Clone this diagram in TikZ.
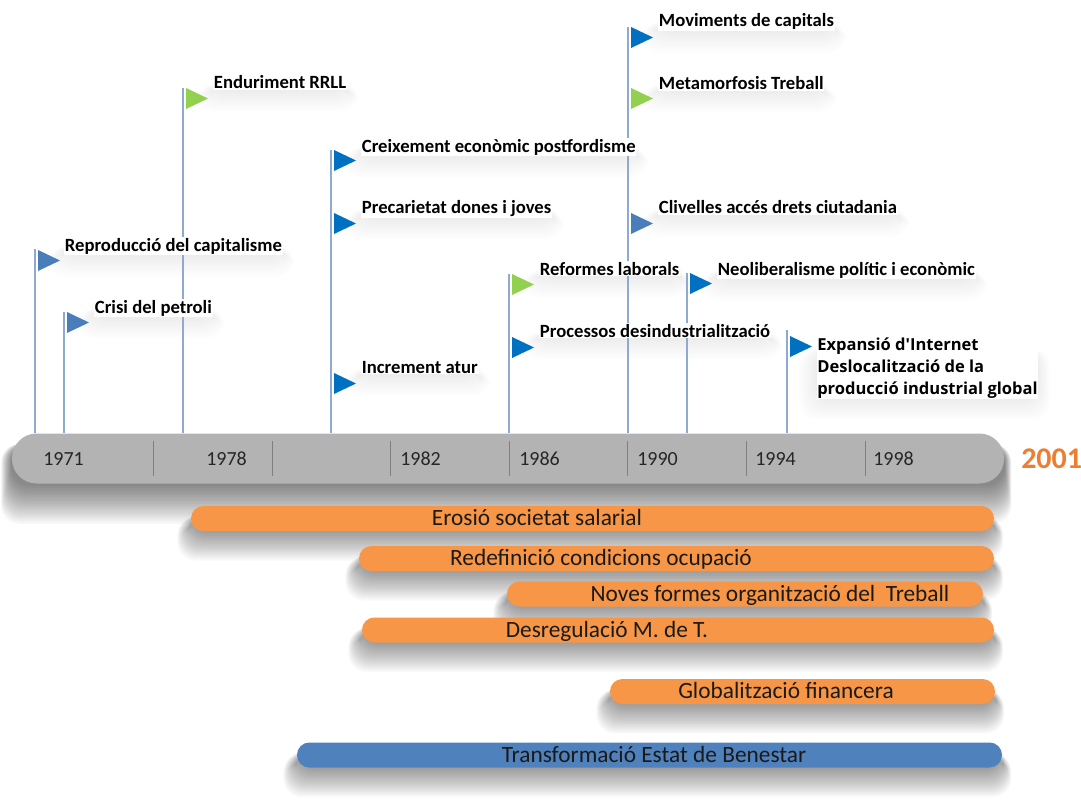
\documentclass[tikz,border=0pt]{standalone}
\usepackage{fontspec}
\setmainfont{Carlito}
\newfontfamily\expfont{Open Sans}
\definecolor{flagblue}{HTML}{0070C0}
\definecolor{flaglight}{HTML}{4A7EBB}
\definecolor{flaggreen}{HTML}{92D050}
\definecolor{polecol}{HTML}{8FAAD0}
\definecolor{axisgray}{HTML}{B3B3B3}
\definecolor{divgray}{HTML}{7F7F7F}
\definecolor{yeartext}{HTML}{262626}
\definecolor{orangebar}{HTML}{F79646}
\definecolor{bluebar}{HTML}{4F81BD}
\definecolor{endyear}{HTML}{ED7D31}
\definecolor{bartext}{HTML}{1A1A1A}

\pgfdeclarelayer{paper}
\pgfdeclarelayer{shadow}
\pgfsetlayers{paper,shadow,main}

\tikzset{
  pole/.style={draw=polecol, line width=1.3pt},
  flagshape/.style={fill=#1},
  event/.style={anchor=base west, font=\fontsize{14}{17}\selectfont\bfseries,
    fill=white, inner xsep=0.5pt, inner ysep=1pt, text=black},
  year/.style={anchor=base west, font=\fontsize{15}{18}\selectfont, text=yeartext, inner sep=0pt},
  divider/.style={draw=divgray, line width=0.6pt},
  periodbar/.style={rounded corners=9.3pt, minimum height=25*0.75pt, inner sep=0pt, fill=#1},
  bartitle/.style={anchor=base, font=\fontsize{17.5}{20}\selectfont, text=bartext, inner sep=0pt},
  shadowlayer/.style={fill=black, opacity=#1, rounded corners=14pt},
}

\newcommand{\eventflag}[3]{% pole x, flag top y, colour
  \fill[flagshape=#3] (#1+3,#2) -- (#1+25,#2+10.5) -- (#1+3,#2+21) -- cycle;}

% soft shadow under a node, built from stacked translucent layers:
% node name, reach below (pt), reach sideways (pt), opacity per layer
\newcommand{\softshadow}[4]{%
  \foreach \i in {1,...,18}{
    \fill[shadowlayer=#4]
      ([xshift={-\i*#3/18}, yshift=-8pt]#1.north west) rectangle
      ([xshift={\i*#3/27}, yshift={-\i*#2/18}]#1.south east);
  }}

\begin{document}
\begin{tikzpicture}[x=0.75pt,y=-0.75pt]
\useasboundingbox (0,0) rectangle (1081,806);
\begin{pgfonlayer}{paper}
  \fill[white] (0,0) rectangle (1081,806);
\end{pgfonlayer}

% ---- time axis ----
\node[fill=axisgray, rounded corners=18.5pt, minimum width=992*0.75pt,
  minimum height=50*0.75pt, inner sep=0pt] (axis) at (508,458.5) {};
\foreach \d in {153,272,390,509,627,746,865}
  \draw[divider] (\d,441) -- (\d,476);

\node[year] (y1971) at (43,465) {1971};
\node[year] (y1978) at (206,465) {1978};
\node[year] (y1982) at (400,465) {1982};
\node[year] (y1986) at (519,465) {1986};
\node[year] (y1990) at (637,465) {1990};
\node[year] (y1994) at (755,465) {1994};
\node[year] (y1998) at (873,465) {1998};
\node[anchor=base west, inner sep=0pt, text=endyear,
  font=\fontsize{22.5}{26}\selectfont\bfseries] (y2001) at (1021,468) {2001};

% ---- poles ----
\coordinate (pA) at (35,249);
\coordinate (pB) at (64,312);
\coordinate (pC) at (183,88);
\coordinate (pD) at (331,150);
\coordinate (pE) at (509,274);
\coordinate (pF) at (628,27);
\coordinate (pG) at (687,273);
\coordinate (pH) at (787,330);
\foreach \p in {pA,pB,pC,pD,pE,pF,pG,pH}
  \draw[pole] (\p) -- (\p |- axis.north);

% ---- flags ----
\eventflag{35}{250}{flaglight}
\eventflag{64}{312}{flaglight}
\eventflag{183}{88}{flaggreen}
\eventflag{331}{150}{flagblue}
\eventflag{331}{213}{flagblue}
\eventflag{331}{373}{flagblue}
\eventflag{509}{274}{flaggreen}
\eventflag{509}{337}{flagblue}
\eventflag{628}{27}{flagblue}
\eventflag{628}{88}{flaggreen}
\eventflag{628}{213}{flaglight}
\eventflag{687}{273}{flagblue}
\eventflag{787}{336}{flagblue}

% ---- event labels ----
\node[event] (eRepro) at (64,251) {Reproducció del capitalisme};
\node[event] (eCrisi) at (94,313) {Crisi del petroli};
\node[event] (eEndur) at (213,89) {Enduriment RRLL};
\node[event] (eCreix) at (361,152) {Creixement econòmic postfordisme};
\node[event] (ePrec) at (361,214) {Precarietat dones i joves};
\node[event] (eAtur) at (361,373) {Increment atur};
\node[event] (eReform) at (539,275) {Reformes laborals};
\node[event] (eDesind) at (539,337) {Processos desindustrialització};
\node[event] (eMov) at (658,27) {Moviments de capitals};
\node[event] (eMeta) at (658,90) {Metamorfosis Treball};
\node[event] (eCliv) at (658,214) {Clivelles accés drets ciutadania};
\node[event] (eNeo) at (717,275) {Neoliberalisme polític i econòmic};
\node[anchor=north west, align=left, inner sep=0pt, fill=white,
  font=\fontsize{12.4}{16.5}\selectfont\expfont\bfseries] (eExp) at (817,338)
  {Expansió d'Internet\\Deslocalització de la\\producció industrial global};

% ---- period bars ----
\node[periodbar=orangebar, minimum width=803*0.75pt] (bErosio) at (592.5,518.5) {};
\node[bartitle] (tErosio) at (537,525.5) {Erosió societat salarial};
\node[periodbar=orangebar, minimum width=635*0.75pt] (bRedef) at (676.5,558.5) {};
\node[bartitle] (tRedef) at (601,565.5) {Redefinició condicions ocupació};
\node[periodbar=orangebar, minimum width=476*0.75pt] (bNoves) at (745,594) {};
\node[bartitle] (tNoves) at (770,601) {Noves formes organització del \ Treball};
\node[periodbar=orangebar, minimum width=632*0.75pt] (bDesreg) at (678,630) {};
\node[bartitle] (tDesreg) at (607,637) {Desregulació M. de T.};
\node[periodbar=orangebar, minimum width=385*0.75pt] (bGlobal) at (802.5,691.5) {};
\node[bartitle] (tGlobal) at (786,698.5) {Globalització financera};
\node[periodbar=bluebar, minimum width=705*0.75pt] (bBenest) at (649.5,755) {};
\node[bartitle] (tBenest) at (654,762) {Transformació Estat de Benestar};

% ---- soft shadows beneath the axis, the bars and the labels ----
\begin{pgfonlayer}{shadow}
  \softshadow{axis}{30pt}{8pt}{0.03}
  \foreach \b in {bErosio,bRedef,bNoves,bDesreg,bGlobal,bBenest}{
    \softshadow{\b}{22pt}{10pt}{0.022}}
  \foreach \e in {eRepro,eCrisi,eEndur,eCreix,ePrec,eAtur,eReform,eDesind,
                  eMov,eMeta,eCliv,eNeo,eExp}{
    \softshadow{\e}{16pt}{14pt}{0.0035}}
\end{pgfonlayer}
\end{tikzpicture}
\end{document}
